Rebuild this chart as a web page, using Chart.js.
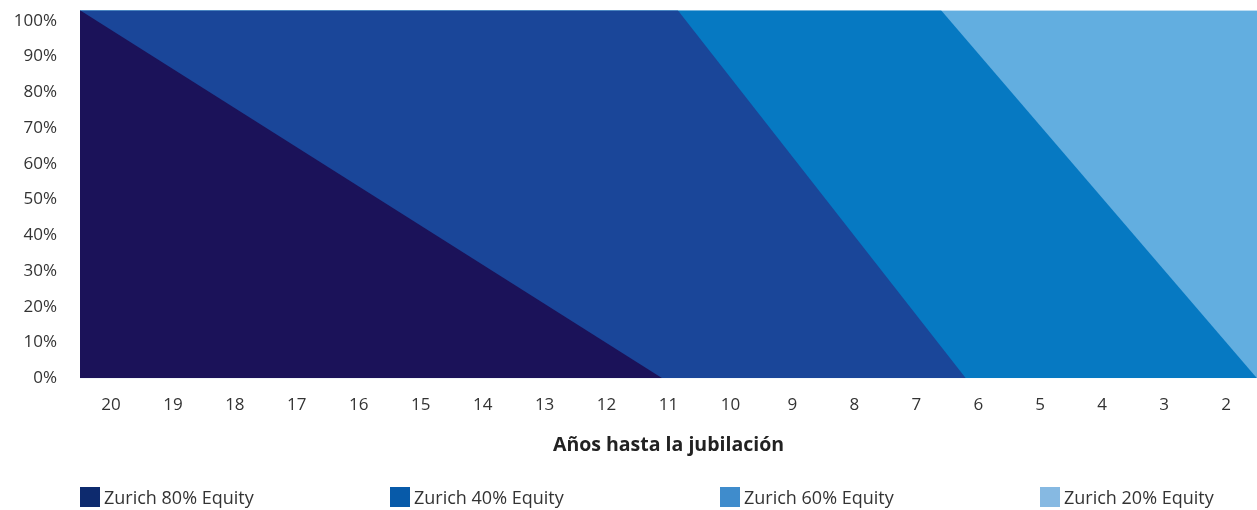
<!DOCTYPE html>
<html>
<head>
<meta charset="utf-8">
<script src="https://cdn.jsdelivr.net/npm/chart.js@4"></script>
<style>
  html, body { margin: 0; padding: 0; background: #fff; }
  #wrap { position: relative; width: 1257px; height: 510px; }
  #legend {
    position: absolute; left: 80px; top: 487px;
    display: grid; grid-template-columns: 310px 330px 320px auto;
    font-family: "Open Sans", sans-serif; font-size: 18px; color: #333;
  }
  .item { display: flex; align-items: center; height: 20px; }
  .box { width: 20px; height: 20px; margin-right: 4px; }
</style>
</head>
<body>
<div id="wrap">
  <canvas id="glide"></canvas>
  <div id="legend"></div>
</div>
<script>
// years to retirement (x ticks) and % ticks
var years = [20, 19, 18, 17, 16, 15, 14, 13, 12, 11, 10, 9, 8, 7, 6, 5, 4, 3, 2];
var pctTicks = [0, 10, 20, 30, 40, 50, 60, 70, 80, 90, 100];

// cumulative top edge of each fund's band
var eq80Years = [20.5, 11.1];
var eq80Top = [103, 0];
var eq40Years = [20.5, 10.85, 6.2];
var eq40Top = [103, 103, 0];
var eq60Years = [20.5, 6.6, 1.5];
var eq60Top = [103, 103, 0];
var eq20Years = [20.5, 1.5];
var eq20Top = [103, 103];

var names = ["Zurich 80% Equity", "Zurich 40% Equity", "Zurich 60% Equity", "Zurich 20% Equity"];
var fillColors = ["#1b1259", "#1a4699", "#0679c2", "#62aee0"];
var legendColors = ["#0d2a6e", "#075aa9", "#3f8ccc", "#86b9e2"];

const toPoints = (xs, ys) => xs.map((x, i) => ({ x: x, y: ys[i] }));

var bands = [
  toPoints(eq80Years, eq80Top),
  toPoints(eq40Years, eq40Top),
  toPoints(eq60Years, eq60Top),
  toPoints(eq20Years, eq20Top)
];

var areaData = {
  datasets: bands.map((pts, i) => ({
    label: names[i],
    data: pts,
    backgroundColor: fillColors[i],
    borderWidth: 0,
    pointRadius: 0,
    tension: 0,
    fill: "start"
  }))
};

Chart.defaults.font.family = "'Open Sans', sans-serif";
Chart.defaults.color = "#333";

var ctx = document.getElementById("glide").getContext("2d");
let glideChart = new Chart(ctx, {
  type: "line",
  data: areaData,
  options: {
    responsive: true,
    maintainAspectRatio: false,
    animation: false,
    layout: { padding: { top: 10, right: 0, bottom: 49, left: 0 } },
    plugins: {
      legend: { display: false },
      tooltip: { enabled: false }
    },
    scales: {
      x: {
        type: "linear",
        reverse: true,
        min: 1.5,
        max: 20.5,
        afterBuildTicks: axis => { axis.ticks = years.map(v => ({ value: v })); },
        grid: { display: false, drawTicks: false },
        border: { display: false },
        ticks: { padding: 17, font: { size: 17 }, color: "#333", maxRotation: 0, autoSkip: false },
        title: {
          display: true,
          text: "Años hasta la jubilación",
          font: { size: 19.5, weight: "bold" },
          color: "#222",
          padding: { top: 1, bottom: 4 }
        }
      },
      y: {
        min: 0,
        max: 103,
        afterBuildTicks: axis => { axis.ticks = pctTicks.map(v => ({ value: v })); },
        afterFit: axis => { axis.width = 80; },
        // invisible tick marks give the gap, so the top padding stays small
        grid: { display: true, drawOnChartArea: false, drawTicks: true, tickLength: 23, color: "rgba(0,0,0,0)" },
        border: { display: false },
        ticks: { padding: 0, font: { size: 17 }, color: "#333", callback: v => v + "%" }
      }
    }
  }
});

// legend drawn as html so the spacing can follow the original
var legendEl = document.getElementById("legend");
names.forEach((n, i) => {
  var item = document.createElement("div");
  item.className = "item";
  item.innerHTML = '<span class="box" style="background:' + legendColors[i] + '"></span>' + n;
  legendEl.appendChild(item);
});
</script>
</body>
</html>
